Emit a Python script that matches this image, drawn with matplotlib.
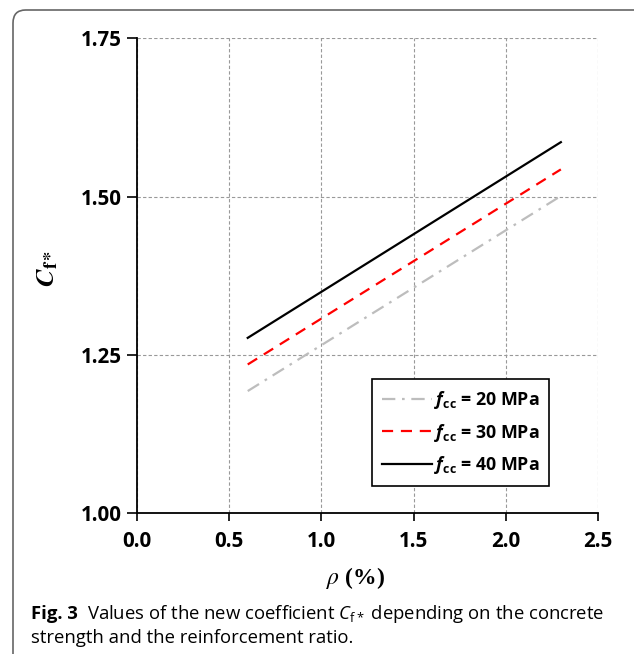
import numpy as np
import matplotlib
matplotlib.use("Agg")
import matplotlib.pyplot as plt
from matplotlib.patches import FancyBboxPatch

plt.rcParams['mathtext.fontset'] = 'custom'
plt.rcParams['mathtext.rm'] = 'Open Sans'
plt.rcParams['mathtext.it'] = 'Open Sans:italic'
plt.rcParams['mathtext.bf'] = 'Open Sans:bold'
plt.rcParams['mathtext.bfit'] = 'Open Sans:italic:bold'

# Data
rho = [0.6, 2.3]
c_20 = [1.193, 1.501]
c_30 = [1.235, 1.543]
c_40 = [1.277, 1.586]
labels = [r'$\boldsymbol{f}_{\mathbf{cc}}$ = 20 MPa',
          r'$\boldsymbol{f}_{\mathbf{cc}}$ = 30 MPa',
          r'$\boldsymbol{f}_{\mathbf{cc}}$ = 40 MPa']
xticks = [0.0, 0.5, 1.0, 1.5, 2.0, 2.5]
yticks = [1.00, 1.25, 1.50, 1.75]

W, H = 634, 654
fig = plt.figure(figsize=(W/100, H/100), dpi=100)
ax = fig.add_axes([137.2/W, 1-513.3/H, (597.7-137.2)/W, (513.3-38.3)/H])

ax.plot(rho, c_20, color='#bdbdbd', lw=1.6, dashes=(6, 3, 1.2, 3), label=labels[0])
ax.plot(rho, c_30, color='red', lw=1.6, dashes=(5, 3.5), label=labels[1])
ax.plot(rho, c_40, color='black', lw=1.6, label=labels[2])

ax.set_xlim(0, 2.5)
ax.set_ylim(1.0, 1.75)
ax.set_xticks(xticks)
ax.set_yticks(yticks)
tick_font = dict(fontfamily='Open Sans', fontweight='bold', fontsize=14.8)
ax.set_xticklabels(['%.1f' % v for v in xticks], **tick_font)
ax.set_yticklabels(['%.2f' % v for v in yticks], **tick_font)
ax.tick_params(axis='y', direction='out', length=7, width=1.2, pad=4)
ax.tick_params(axis='x', direction='out', length=6, width=1.2, pad=7)
for s in ['top', 'right']:
    ax.spines[s].set_visible(False)
for s in ['left', 'bottom']:
    ax.spines[s].set_linewidth(1.3)
ax.grid(True, color='#999999', lw=0.8, ls=(0, (3, 2)))
ax.set_axisbelow(True)

leg = ax.legend(loc='lower right', bbox_to_anchor=(0.894, 0.0575), borderaxespad=0,
                fancybox=False, edgecolor='black', framealpha=1,
                prop={'family': 'Open Sans', 'weight': 'bold', 'size': 12.8},
                handlelength=2.8, handletextpad=0.1, labelspacing=0.6,
                borderpad=0.55)
leg.get_frame().set_linewidth(1.2)

# axis labels
fig.text(47/W, 1-268/H, r'$\boldsymbol{C}_{\mathbf{f*}}$', rotation=90, ha='center', va='center',
         fontsize=19, math_fontfamily='stix')
fig.text(356/W, 1-578/H, r'$\rho$ (%)', ha='center', va='center', fontsize=17,
         fontfamily='Liberation Serif', fontweight='bold', math_fontfamily='stix')

# caption
cap_font = dict(fontfamily='Open Sans', fontsize=13.3, va='baseline')
t1 = fig.text(31/W, 1-619/H, 'Fig. 3', fontweight='bold', **cap_font)
fig.canvas.draw()
bb = t1.get_window_extent()
fig.text((bb.x1 + 9)/W, 1-619/H,
         r'Values of the new coefficient $C_{\mathrm{f*}}$ depending on the concrete',
         **cap_font)
fig.text(31/W, 1-643/H, 'strength and the reinforcement ratio.', **cap_font)

# rounded border
frame = FancyBboxPatch((13/W, -0.1), 1.2, 1-10/H + 0.1,
                       boxstyle='round,pad=0,rounding_size=0.02',
                       transform=fig.transFigure, fill=False,
                       edgecolor='#666666', lw=1.2, clip_on=False)
fig.patches.append(frame)

fig.savefig('out.png', dpi=100)
